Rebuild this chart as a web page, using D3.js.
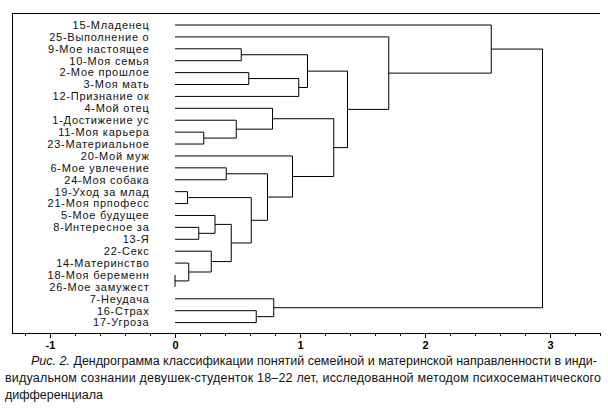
<!DOCTYPE html>
<html><head><meta charset="utf-8">
<script src="https://cdn.jsdelivr.net/npm/d3@7"></script>
<style>
html,body{margin:0;padding:0;background:#fff;}
svg{display:block;}
</style></head>
<body>
<script>
const leaves = ["15-Младенец","25-Выполнение о","9-Мое настоящее","10-Моя семья","2-Мое прошлое","3-Моя мать","12-Признание ок","4-Мой отец","1-Достижение ус","11-Моя карьера","23-Материальное","20-Мой муж","6-Мое увлечение","24-Моя собака","19-Уход за млад","21-Моя прпофесс","5-Мое будущее","8-Интересное за","13-Я","22-Секс","14-Материнство","18-Моя беременн","26-Мое замужест","7-Неудача","16-Страх","17-Угроза"];
// merges: ids < 26 are leaves, ids >= 26 refer to earlier merges (26 + index)
const mergeLeft   = [21,14,20,17,19,16, 9,12,31, 8, 2, 4,27,24,33, 7,23,11,37,36,41,45, 1, 0,49];
const mergeRight  = [22,15,26,18,28,29,10,13,30,32, 3, 5,34,25,38,35,39,40, 6,44,43,46,47,48,42];
const mergeHeight = [0.00,0.10,0.11,0.19,0.29,0.32,0.23,0.41,0.45,0.49,0.53,0.59,0.61,0.65,0.74,0.78,0.79,0.94,0.99,1.06,1.27,1.38,1.71,2.53,2.94];
const majorTicks = [-1,0,1,2,3];
const minorTicks = [-1.2,-0.8,-0.6,-0.4,-0.2,0.2,0.4,0.6,0.8,1.2,1.4,1.6,1.8,2.2,2.4,2.6,2.8,3.2,3.4];
const captionItalic = "Рис. 2.";
const captionLines = [
  " Дендрограмма классификации понятий семейной и материнской направленности в инди-",
  "видуальном сознании девушек-студенток 18–22 лет, исследованной методом психосемантического",
  "дифференциала"
];

const W = 608, H = 411;
const svg = d3.select("body").append("svg").attr("width", W).attr("height", H);
svg.append("rect").attr("width", W).attr("height", H).attr("fill", "#fff");

const mLeft = 12, mRight = 600, mTop = 13, mBottom = 333;
const x = d3.scaleLinear().domain([-1.304, 3.4]).range([mLeft, mRight]);
const y = d3.scalePoint().domain(leaves).range([25, 322.6]);

// node positions
const nodeY = leaves.map(l => y(l));
const nodeH = leaves.map(() => 0);
mergeLeft.forEach((a, i) => {
  const b = mergeRight[i];
  nodeY.push((nodeY[a] + nodeY[b]) / 2);
  nodeH.push(mergeHeight[i]);
});

// frame
svg.append("line").attr("x1", mLeft).attr("x2", mRight).attr("y1", mTop + 0.5).attr("y2", mTop + 0.5)
  .attr("stroke", "#000").attr("stroke-width", 1);
svg.append("line").attr("x1", mLeft + 0.5).attr("x2", mLeft + 0.5).attr("y1", mTop).attr("y2", mBottom)
  .attr("stroke", "#000").attr("stroke-width", 1);

// labels
svg.append("g").selectAll("text").data(leaves).join("text")
  .attr("x", 149.5).attr("y", d => y(d)).attr("dy", "0.35em")
  .attr("text-anchor", "end")
  .attr("font-family", "Liberation Sans, Arial, sans-serif")
  .attr("font-size", 11).attr("letter-spacing", 0.75).attr("fill", "#111")
  .text(d => d);

// dendrogram links
svg.append("g").selectAll("path").data(mergeLeft.map((a, i) => i)).join("path")
  .attr("fill", "none").attr("stroke", "#000").attr("stroke-width", 1)
  .attr("d", i => {
    const a = mergeLeft[i], b = mergeRight[i];
    const xm = x(mergeHeight[i]);
    return `M${x(nodeH[a])},${nodeY[a]}H${xm}V${nodeY[b]}H${x(nodeH[b])}`;
  });

// axis
const gx = svg.append("g").attr("transform", `translate(0,${mBottom})`);
gx.call(d3.axisBottom(x).tickValues(minorTicks).tickSize(3).tickSizeOuter(0).tickFormat(""));
gx.select(".domain").remove();
const gx2 = svg.append("g").attr("transform", `translate(0,${mBottom})`);
gx2.call(d3.axisBottom(x).tickValues(majorTicks).tickSize(5).tickSizeOuter(0).tickPadding(3)
  .tickFormat(d => String(d)));
gx2.select(".domain").attr("d", `M${mLeft},0.5H${mRight}`);
svg.selectAll(".tick line").attr("stroke", "#000");
gx2.selectAll("text").attr("font-family", "Liberation Sans, Arial, sans-serif")
  .attr("font-size", 11).attr("font-weight", "bold").attr("fill", "#000");

// caption
const cap = svg.append("g").attr("font-family", "Liberation Sans, Arial, sans-serif")
  .attr("font-size", 12.5).attr("fill", "#111");
const t1 = cap.append("text").attr("x", 31).attr("y", 365)
  .attr("textLength", 566).attr("lengthAdjust", "spacing");
t1.append("tspan").attr("font-style", "italic").text(captionItalic);
t1.append("tspan").text(captionLines[0]);
cap.append("text").attr("x", 5).attr("y", 382)
  .attr("textLength", 596).attr("lengthAdjust", "spacing").text(captionLines[1]);
cap.append("text").attr("x", 5).attr("y", 399).text(captionLines[2]);
</script>
</body></html>
